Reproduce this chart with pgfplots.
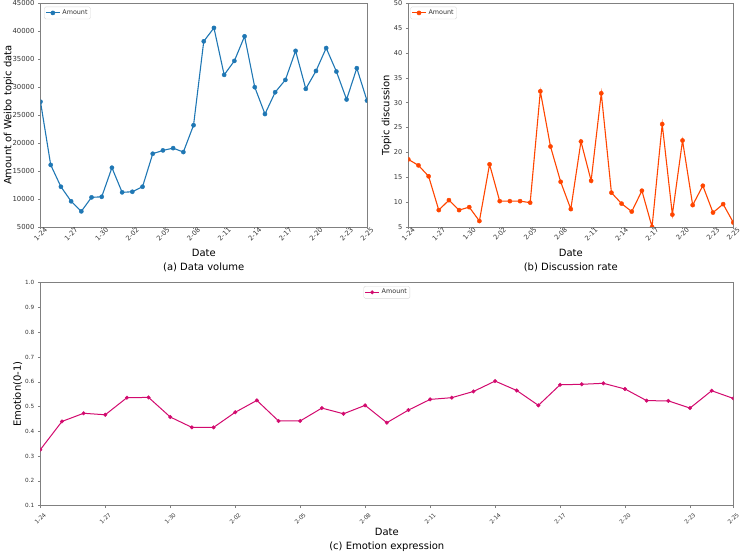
\documentclass[border=0pt]{standalone}
\usepackage{pgfplots}
\pgfplotsset{compat=1.18}
\usepackage{fontspec}
\setmainfont{DejaVu Sans}
\definecolor{cA}{HTML}{1F77B4}
\definecolor{cB}{HTML}{FF4500}
\definecolor{cC}{RGB}{210,10,110}
\definecolor{spine}{RGB}{128,128,128}
\pgfplotsset{
  base/.style={
    scale only axis,
    /pgf/number format/assume math mode=true,
    axis line style={spine, line width=0.8pt},
    tick align=outside,
    xtick pos=bottom, ytick pos=left,
    major tick length=2.5pt,
    every tick/.style={spine, line width=0.6pt},
    tick label style={text=black!80},
    xmin=0, xmax=32,
    xtick={0,3,6,9,12,15,18,21,24,27,30,32},
    xticklabels={1-24,1-27,1-30,2-02,2-05,2-08,2-11,2-14,2-17,2-20,2-23,2-25},
    xlabel={Date},
    label style={font=\fontsize{11.5}{13}\selectfont},
    title style={font=\fontsize{11.5}{13}\selectfont, anchor=center},
    clip marker paths=true,
    legend cell align=left,
    legend style={draw=black!15, rounded corners=1.5pt, fill=white, inner sep=1pt,
      font=\fontsize{6.4}{7.5}\selectfont, text=black!80},
    legend image code/.code={\draw[mark repeat=2,mark phase=2,##1] plot coordinates {(0pt,0pt) (7pt,0pt) (14pt,0pt)};},
  }
}
\begin{document}
\begin{tikzpicture}[x=1pt,y=1pt]
\useasboundingbox (0,0) rectangle (741,554);
% (a)
\begin{axis}[base,
  at={(40.5pt,327pt)}, anchor=south west,
  width=326.5pt, height=223.7pt,
  ymin=5000, ymax=45000, ytick={5000,10000,...,45000},
  scaled y ticks=false,
  yticklabel style={/pgf/number format/1000 sep={}, font=\fontsize{6.9}{8}\selectfont},
  xticklabel style={font=\fontsize{6.7}{8}\selectfont, rotate=45, anchor=center},
  xticklabel shift=4.5pt,
  ylabel={Amount of Weibo topic data},
  every axis y label/.style={at={(rel axis cs:-0.098,0.5)}, rotate=90, anchor=center},
  every axis x label/.style={at={(rel axis cs:0.5,-0.116)}, anchor=center},
  title={(a) Data volume},
  every axis title/.style={at={(rel axis cs:0.5,-0.179)}, anchor=center},
  legend style={at={(rel axis cs:0.011,0.985)}, anchor=north west},
]
\addplot[cA, line width=1.1pt, mark=*, mark size=2.1pt, mark options={line width=0.4pt, fill=cA}] coordinates {
(0,27400)(1,16100)(2,12200)(3,9600)(4,7800)(5,10300)(6,10400)(7,15600)(8,11200)(9,11300)
(10,12200)(11,18100)(12,18700)(13,19100)(14,18400)(15,23200)(16,38200)(17,40600)(18,32200)(19,34700)
(20,39100)(21,30000)(22,25200)(23,29100)(24,31300)(25,36500)(26,29700)(27,32900)(28,37000)(29,32800)
(30,27800)(31,33400)(32,27600)};
\addlegendentry{Amount}
\end{axis}
% (b)
\begin{axis}[base,
  at={(408.3pt,327pt)}, anchor=south west,
  width=325pt, height=223.7pt,
  ymin=5, ymax=50, ytick={5,10,...,50},
  yticklabel style={font=\fontsize{6.6}{8}\selectfont},
  xticklabel style={font=\fontsize{6.6}{8}\selectfont, rotate=45, anchor=center},
  xticklabel shift=4.5pt,
  ylabel={Topic discussion},
  every axis y label/.style={at={(rel axis cs:-0.0671,0.5)}, rotate=90, anchor=center},
  every axis x label/.style={at={(rel axis cs:0.5,-0.116)}, anchor=center},
  title={(b) Discussion rate},
  every axis title/.style={at={(rel axis cs:0.5,-0.179)}, anchor=center},
  legend style={at={(rel axis cs:0.006,0.985)}, anchor=north west},
]
\addplot[cB, line width=1.1pt, mark=*, mark size=2.1pt, mark options={line width=0.4pt, fill=cB}] coordinates {
(0,18.6)(1,17.4)(2,15.2)(3,8.4)(4,10.4)(5,8.4)(6,9.0)(7,6.2)(8,17.6)(9,10.2)
(10,10.2)(11,10.2)(12,9.9)(13,32.3)(14,21.2)(15,14.1)(16,8.6)(17,22.2)(18,14.3)(19,31.9)
(20,11.9)(21,9.7)(22,8.1)(23,12.3)(24,5.0)(25,25.7)(26,7.5)(27,22.4)(28,9.4)(29,13.3)
(30,7.9)(31,9.6)(32,5.9)};
\addlegendentry{Amount}
\end{axis}
% (c)
\begin{axis}[base,
  at={(40.3pt,48.3pt)}, anchor=south west,
  width=693pt, height=223pt,
  ymin=0.1, ymax=1.0, ytick={0.1,0.2,...,1.0},
  yticklabel style={/pgf/number format/.cd, fixed, fixed zerofill, precision=1, /tikz/.cd, font=\fontsize{5.7}{7}\selectfont},
  xticklabel style={font=\fontsize{5.7}{7}\selectfont, rotate=45, anchor=center},
  xticklabel shift=10.5pt,
  ylabel={Emotion(0-1)},
  every axis y label/.style={at={(rel axis cs:-0.0326,0.5)}, rotate=90, anchor=center},
  every axis x label/.style={at={(rel axis cs:0.5,-0.118)}, anchor=center},
  title={(c) Emotion expression},
  every axis title/.style={at={(rel axis cs:0.5,-0.185)}, anchor=center},
  legend style={at={(rel axis cs:0.5,0.985)}, anchor=north},
]
\addplot[cC, line width=1.0pt, mark=*, mark size=1.8pt, mark options={line width=0.4pt, fill=cC}] coordinates {
(0,0.326)(1,0.440)(2,0.473)(3,0.467)(4,0.536)(5,0.537)(6,0.458)(7,0.416)(8,0.416)(9,0.477)
(10,0.525)(11,0.442)(12,0.442)(13,0.494)(14,0.471)(15,0.505)(16,0.435)(17,0.486)(18,0.529)(19,0.536)
(20,0.561)(21,0.603)(22,0.565)(23,0.505)(24,0.588)(25,0.590)(26,0.594)(27,0.571)(28,0.524)(29,0.523)
(30,0.494)(31,0.564)(32,0.533)};
\addlegendentry{Amount}
\end{axis}
\end{tikzpicture}
\end{document}
